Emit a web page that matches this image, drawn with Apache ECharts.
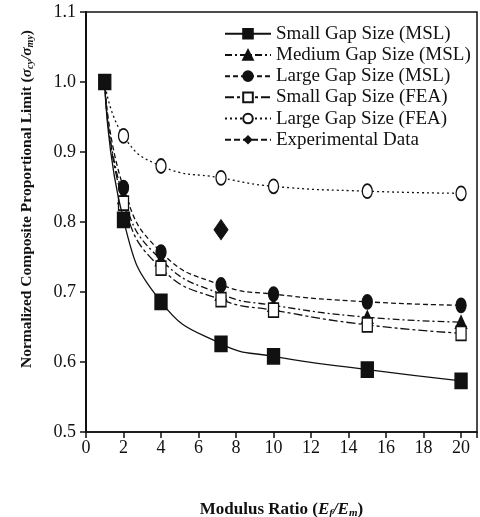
<!DOCTYPE html>
<html><head><meta charset="utf-8">
<script src="https://cdn.jsdelivr.net/npm/echarts@6/dist/echarts.min.js"></script>
<style>html,body{margin:0;padding:0;background:#fff}#c{width:480px;height:517px}</style>
</head><body><div id="c"></div>
<script>
const xValues = [1, 2, 4, 7.2, 10, 15, 20];
const smallMSL = [1.0, 0.803, 0.686, 0.626, 0.608, 0.589, 0.573];
const mediumMSL = [1.0, 0.835, 0.746, 0.697, 0.681, 0.664, 0.657];
const largeMSL = [1.0, 0.849, 0.757, 0.710, 0.697, 0.686, 0.681];
const smallFEA = [1.0, 0.827, 0.734, 0.689, 0.674, 0.653, 0.641];
const largeFEA = [1.0, 0.923, 0.880, 0.863, 0.851, 0.844, 0.841];
const expX = [7.2];
const expY = [0.789];
const seriesNames = ['Small Gap Size (MSL)', 'Medium Gap Size (MSL)', 'Large Gap Size (MSL)', 'Small Gap Size (FEA)', 'Large Gap Size (FEA)', 'Experimental Data'];
const xTicks = [0, 2, 4, 6, 8, 10, 12, 14, 16, 18, 20];
const yTicks = [0.5, 0.6, 0.7, 0.8, 0.9, 1.0, 1.1];

const K = '#111';
const FONT = 'Liberation Serif';
function pairs(ys, hideFirst) {
  return xValues.map((x, i) => {
    const d = { value: [x, ys[i]] };
    if (hideFirst && i === 0) d.symbol = 'none';
    return d;
  });
}
function lineSeries(name, ys, opt) {
  return Object.assign({
    name, type: 'line', data: pairs(ys, opt.hideFirst),
    smooth: 0.5,
    symbol: opt.symbol, symbolSize: opt.size,
    showAllSymbol: true,
    lineStyle: { color: K, width: 1.3, type: opt.dash },
    itemStyle: { color: opt.fill, borderColor: K, borderWidth: 1.5 },
    z: opt.z || 2
  });
}
const chart = echarts.init(document.getElementById('c'), null, { renderer: 'canvas' });
chart.setOption({
  animation: false,
  backgroundColor: '#fff',
  grid: { left: 86, right: 3, top: 12, bottom: 85, outerBoundsMode: 'none', containLabel: false, show: true, borderColor: K, borderWidth: 1.5, backgroundColor: 'transparent' },
  legend: {
    left: 224, top: 24, padding: 0, orient: 'vertical', itemWidth: 46, itemHeight: 12, itemGap: 1.7,
    textStyle: { fontFamily: FONT, fontSize: 19, color: K, lineHeight: 19.5 },
    data: seriesNames
  },
  xAxis: {
    type: 'value', min: 0, max: 20.85, interval: 2,
    name: 'Modulus Ratio ({i|E}{s|f}{i|/E}{s|m})', nameLocation: 'middle', nameGap: 69,
    nameTextStyle: { fontFamily: FONT, fontSize: 17, fontWeight: 'bold', color: K,
      rich: { i: { fontFamily: FONT, fontSize: 17, fontStyle: 'italic', fontWeight: 'bold', color: K }, s: { fontFamily: FONT, fontSize: 11, fontStyle: 'italic', fontWeight: 'bold', color: K, verticalAlign: 'bottom', padding: [7, 0, 0, 0] } } },
    axisLine: { show: true, onZero: false, lineStyle: { color: K, width: 1.5 } },
    axisTick: { show: true, inside: false, length: 6, lineStyle: { color: K, width: 1.5 } },
    axisLabel: { fontFamily: FONT, fontSize: 18, color: K, margin: 7,
      formatter: v => xTicks.includes(Math.round(v * 100) / 100) ? String(v) : '' },
    splitLine: { show: false }
  },
  yAxis: {
    type: 'value', min: 0.5, max: 1.1, interval: 0.1,
    name: 'Normalized Composite Proportional Limit ({i|σ}{s|cy}{i|/σ}{s|my})', nameLocation: 'middle', nameGap: 51, nameRotate: 90,
    nameTextStyle: { fontFamily: FONT, fontSize: 15.5, fontWeight: 'bold', color: K, padding: [0, 0, 0, 46],
      rich: { i: { fontFamily: FONT, fontSize: 15.5, fontStyle: 'italic', fontWeight: 'bold', color: K }, s: { fontFamily: FONT, fontSize: 10, fontStyle: 'italic', fontWeight: 'bold', color: K, verticalAlign: 'bottom', padding: [6, 0, 0, 0] } } },
    axisLine: { show: true, lineStyle: { color: K, width: 2 } },
    axisTick: { show: true, inside: false, length: 6, lineStyle: { color: K, width: 1.5 } },
    axisLabel: { fontFamily: FONT, fontSize: 18, color: K, margin: 10,
      formatter: v => yTicks.some(t => Math.abs(t - v) < 1e-6) ? v.toFixed(1) : '' },
    splitLine: { show: false }
  },
  series: [
    lineSeries(seriesNames[0], smallMSL, { symbol: 'rect', size: [12, 15], fill: K, dash: 'solid', z: 6 }),
    lineSeries(seriesNames[1], mediumMSL, { symbol: 'triangle', size: [11, 12], fill: K, dash: [7, 3, 2, 3], hideFirst: true, z: 3 }),
    lineSeries(seriesNames[2], largeMSL, { symbol: 'circle', size: [10, 14], fill: K, dash: [5, 3], hideFirst: true, z: 4 }),
    lineSeries(seriesNames[3], smallFEA, { symbol: 'rect', size: [10, 14], fill: '#fff', dash: [9, 3, 3, 3], hideFirst: true, z: 5 }),
    lineSeries(seriesNames[4], largeFEA, { symbol: 'circle', size: [10, 14], fill: '#fff', dash: [2, 3], hideFirst: true, z: 3 }),
    {
      name: seriesNames[5], type: 'line',
      data: expX.map((x, i) => [x, expY[i]]),
      symbol: 'diamond', symbolSize: [14, 20],
      lineStyle: { color: K, width: 1.3, type: [6, 3] },
      itemStyle: { color: K, borderColor: K },
      z: 6
    }
  ]
});
</script></body></html>
